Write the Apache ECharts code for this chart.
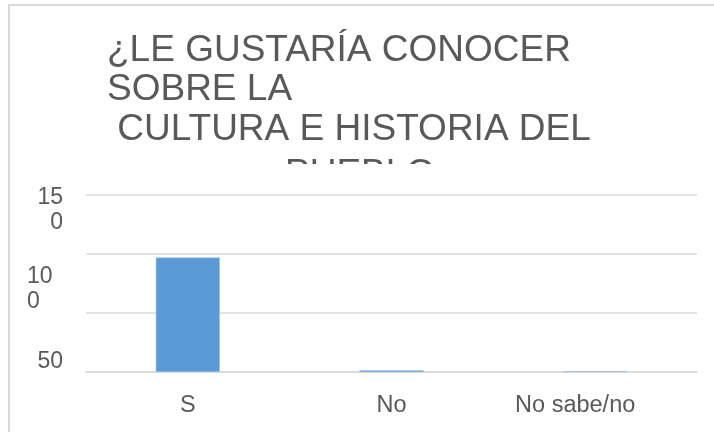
<!DOCTYPE html>
<html>
<head>
<meta charset="utf-8">
<script src="https://cdn.jsdelivr.net/npm/echarts@6/dist/echarts.min.js"></script>
<style>
  html, body { margin: 0; padding: 0; background: #fff; }
  #contain { width: 714px; height: 432px; }
</style>
</head>
<body>
<div id="contain"></div>
<script>
const categories = ['S', 'No', 'No sabe/no']
const values = [97, 1.5, 0.7]
const yTicks = [0, 50, 100, 150]
const titleLines = ['¿LE GUSTARÍA CONOCER', 'SOBRE LA', ' CULTURA E HISTORIA DEL']
const titleLast = 'PUEBLO'

const txt = '#595959'
const gridColor = '#d9d9d9'
const font = 'Liberation Sans, Arial, sans-serif'

const chartDom = document.getElementById('contain')
const myChart = echarts.init(chartDom)

// labels of the value axis sit oddly in the original, wrapped and pushed down.
// 150 and 50 go on the first axis, 100 on a twin axis so the boxes don't clash
const yLabelA = (v) => {
  if (v === yTicks[3]) return '{a|15}\n{a2|0}'
  if (v === yTicks[1]) return '{c|50}'
  return ''
}
const yLabelB = (v) => {
  if (v === yTicks[2]) return '{b|10}\n{b2|0}'
  return ''
}
const tok = (padTop, extra) => Object.assign({
  fontSize: 23, color: txt, fontFamily: font, height: 25,
  lineHeight: 25 + padTop, padding: [padTop, 0, 0, 0]
}, extra || {})

// last category label is drawn a little left of its slot
const xLabel = (v, i) => i === categories.length - 1 ? '{l|' + v + '}' : v

const baseAxis = {
  type: 'value',
  position: 'left',
  offset: 0,
  min: yTicks[0],
  max: yTicks[yTicks.length - 1],
  interval: 50,
  axisLine: { show: false },
  axisTick: { show: false }
}

const option = {
  animation: false,
  title: [
    {
      text: titleLines.join('\n'),
      left: 107,
      top: 31,
      padding: 0,
      textStyle: { fontFamily: font, fontSize: 37, fontWeight: 'normal', color: txt, lineHeight: 39.5 }
    },
    {
      text: titleLast,
      left: 285,
      top: 155,
      padding: 0,
      textStyle: { fontFamily: font, fontSize: 37, fontWeight: 'normal', color: txt, lineHeight: 39.5 }
    }
  ],
  graphic: [
    {
      type: 'rect',
      z: 100,
      shape: { x: 90, y: 164, width: 560, height: 22 },
      style: { fill: '#fff' }
    },
    {
      type: 'rect',
      z: 100,
      shape: { x: 9, y: 5, width: 800, height: 500 },
      style: { fill: 'none', stroke: gridColor, lineWidth: 2 }
    }
  ],
  grid: { left: 86, right: 17, top: 195, bottom: 60 },
  xAxis: {
    type: 'category',
    data: categories,
    axisTick: { show: false },
    axisLine: { lineStyle: { color: gridColor, width: 1.5 } },
    axisLabel: {
      color: txt, fontFamily: font, fontSize: 23.5, margin: 22,
      formatter: xLabel,
      rich: { l: { color: txt, fontFamily: font, fontSize: 23.5, padding: [0, 40, 0, 0] } }
    }
  },
  yAxis: [
    Object.assign({}, baseAxis, {
      splitLine: { lineStyle: { color: gridColor, width: 1.5 } },
      axisLabel: {
        margin: 23,
        color: txt,
        fontFamily: font,
        fontSize: 23,
        formatter: yLabelA,
        rich: { a: tok(31), a2: tok(0), c: tok(98) }
      }
    }),
    Object.assign({}, baseAxis, {
      splitLine: { show: false },
      axisLabel: {
        margin: 23,
        color: txt,
        fontFamily: font,
        fontSize: 23,
        formatter: yLabelB,
        rich: {
          b: tok(70, { width: 36, align: 'left' }),
          b2: tok(0, { width: 36, align: 'left' })
        }
      }
    })
  ],
  series: [
    {
      type: 'bar',
      data: values,
      barWidth: 64,
      yAxisIndex: 0,
      itemStyle: { color: '#5b9bd5', borderColor: '#9fc5e8', borderWidth: 0.5 }
    }
  ]
}

option && myChart.setOption(option)
</script>
</body>
</html>
